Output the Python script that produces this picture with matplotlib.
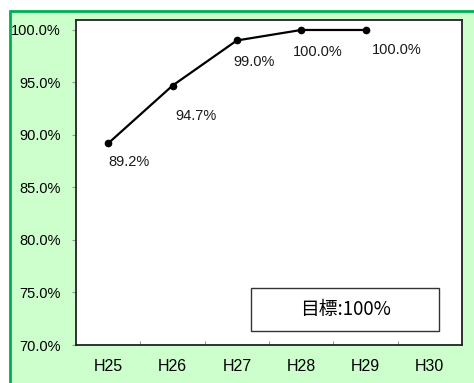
import matplotlib
matplotlib.use("Agg")
import matplotlib.pyplot as plt
from matplotlib.patches import Rectangle

years = ['H25', 'H26', 'H27', 'H28', 'H29', 'H30']
rates = [89.2, 94.7, 99.0, 100.0, 100.0]
target_text = '目標:100%'

plt.rcParams['font.family'] = ['Liberation Sans', 'DejaVu Sans']

fig = plt.figure(figsize=(4.74, 3.83), dpi=100)
fig.patch.set_facecolor('white')

# green frame (only left/top visible, rest is cropped)
frame = Rectangle((9.5 / 474, -0.2), 1.2, 1 - 10.5 / 383 + 0.2,
                  transform=fig.transFigure, facecolor='#CCFFCC',
                  edgecolor='#00B050', linewidth=2.0, zorder=-5)
fig.patches.append(frame)

ax = fig.add_axes([76 / 474, 1 - 345 / 383, 386 / 474, 325 / 383])
ax.set_zorder(2)
ax.set_facecolor('white')

x = list(range(len(rates)))
ax.plot(x, rates, color='black', linewidth=1.6, marker='o', markersize=4.5)

# label offsets in pixels (dx, dy)
offsets = [(0, -19), (3, -30), (-3, -22), (-8, -22), (6, -20)]
for xi, val, (dx, dy) in zip(x, rates, offsets):
    ax.annotate(f'{val:.1f}%', (xi, val), xytext=(dx, dy),
                textcoords='offset pixels', ha='left', va='center',
                fontsize=10.5, color='#1a1a1a')

ax.set_xlim(-0.5, len(years) - 0.5)
ax.set_ylim(70, 100.95)
ax.set_xticks(range(len(years)))
ax.set_xticklabels(years, fontsize=11.5)
ax.set_xticks([i + 0.5 for i in range(len(years) - 1)], minor=True)
ax.tick_params(axis='x', which='major', length=0, pad=10)
ax.tick_params(axis='x', which='minor', direction='in', length=3,
               color='#999999', width=0.8)

yt = [70, 75, 80, 85, 90, 95, 100]
ax.set_yticks(yt)
ax.set_yticklabels([f'{v:.1f}%' for v in yt], fontsize=10.5)
ax.tick_params(axis='y', direction='out', length=3, color='#999999',
               width=0.8, pad=8)

for s in ax.spines.values():
    s.set_color('#222222')
    s.set_linewidth(1.3)

box = Rectangle((0.453, 0.043), 0.487, 0.132, transform=ax.transAxes,
                facecolor='white', edgecolor='#333333', linewidth=1.0)
ax.add_patch(box)
ax.text(0.697, 0.109, target_text, transform=ax.transAxes, ha='center',
        va='center', fontsize=13.5,
        family=['Noto Sans CJK JP', 'DejaVu Sans'])

plt.savefig('out.png', dpi=100, facecolor=fig.get_facecolor())
